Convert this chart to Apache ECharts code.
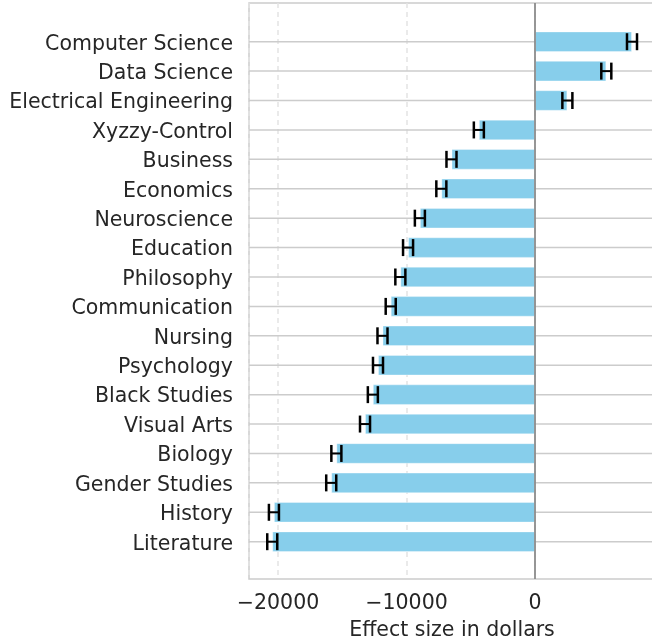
<!DOCTYPE html>
<html>
<head>
<meta charset="utf-8">
<script src="https://cdn.jsdelivr.net/npm/echarts@6/dist/echarts.min.js"></script>
<style>
  html, body { margin: 0; padding: 0; background: #fff; }
</style>
</head>
<body>
<div id="main" style="width: 652px; height: 644px"></div>
<script>
const categories = [
  'Computer Science', 'Data Science', 'Electrical Engineering', 'Xyzzy-Control',
  'Business', 'Economics', 'Neuroscience', 'Education', 'Philosophy',
  'Communication', 'Nursing', 'Psychology', 'Black Studies', 'Visual Arts',
  'Biology', 'Gender Studies', 'History', 'Literature'
]
const effects = [
  7550, 5550, 2520, -4370, -6500, -7290, -8960, -9880, -10480,
  -11230, -11870, -12220, -12620, -13230, -15460, -15860, -20320, -20450
]
const errors = [
  390, 390, 390, 390, 390, 390, 390, 390, 390,
  390, 390, 390, 390, 390, 390, 390, 390, 390
]
const xMin = -22260
const xMax = 9340
const textColor = '#262626'
const fontFamily = 'DejaVu Sans'

const chart = echarts.init(document.getElementById('main'))

function fmtTick(v) {
  if (v % 10000 !== 0) return ''
  return v < 0 ? '\u2212' + Math.abs(v) : String(v)
}

// gridlines at category centres, behind the bars
function renderRowLine(params, api) {
  const y = api.coord([0, api.value(0)])[1]
  const cs = params.coordSys
  return {
    type: 'line',
    shape: { x1: cs.x, y1: y, x2: cs.x + cs.width, y2: y },
    style: { stroke: '#cccccc', lineWidth: 1.5 },
  }
}

function renderErr(params, api) {
  const i = api.value(0)
  const v = api.value(1)
  const e = api.value(2)
  const a = api.coord([v - e, i])
  const b = api.coord([v + e, i])
  const h = 8.5
  const st = { stroke: '#000', lineWidth: 2.5 }
  return {
    type: 'group',
    children: [
      { type: 'line', shape: { x1: a[0], y1: a[1], x2: b[0], y2: b[1] }, style: { stroke: '#000', lineWidth: 2 } },
      { type: 'line', shape: { x1: a[0], y1: a[1] - h, x2: a[0], y2: a[1] + h }, style: st },
      { type: 'line', shape: { x1: b[0], y1: b[1] - h, x2: b[0], y2: b[1] + h }, style: st },
    ],
  }
}

function renderZero(params, api) {
  const x = api.coord([api.value(0), 0])[0]
  const cs = params.coordSys
  return {
    type: 'line',
    shape: { x1: x, y1: cs.y, x2: x, y2: cs.y + cs.height },
    style: { stroke: '#8c8c8c', lineWidth: 1.8 },
  }
}

const option = {
  animation: false,
  backgroundColor: '#ffffff',
  textStyle: { fontFamily: fontFamily },
  grid: [
    {
      // frame, runs past the right edge like the original
      left: 249, width: 406, top: 3, bottom: 65,
      outerBoundsMode: 'none',
      show: true, borderColor: '#cccccc', borderWidth: 1.5,
    },
    {
      // bars
      left: 249, width: 406, top: 27, bottom: 87.6,
      outerBoundsMode: 'none',
    },
  ],
  xAxis: [
    {
      gridIndex: 0,
      type: 'value',
      min: xMin,
      max: xMax,
      splitNumber: 3,
      axisLine: { show: false },
      axisTick: { show: false },
      axisLabel: {
        formatter: fmtTick,
        showMinLabel: false,
        showMaxLabel: false,
        fontSize: 20.5,
        color: textColor,
        margin: 14,
        fontFamily: fontFamily,
      },
      splitLine: {
        show: true,
        lineStyle: { color: '#e3e3e3', width: 1.5, type: [5, 4] },
      },
      name: 'Effect size in dollars',
      nameLocation: 'middle',
      nameGap: 41,
      nameTextStyle: { fontSize: 20.5, color: textColor, fontFamily: fontFamily },
    },
    {
      gridIndex: 1,
      type: 'value',
      min: xMin,
      max: xMax,
      show: false,
      splitLine: { show: false },
    },
  ],
  yAxis: [
    {
      gridIndex: 0,
      type: 'value',
      min: 0,
      max: 1,
      show: false,
      splitLine: { show: false },
    },
    {
      gridIndex: 1,
      type: 'category',
      data: categories,
      inverse: true,
      axisLine: { show: false },
      axisTick: { show: false },
      splitLine: { show: false },
      axisLabel: {
        fontSize: 20.5,
        color: textColor,
        margin: 16,
        verticalAlign: 'top',
        lineHeight: 5,
        fontFamily: fontFamily,
      },
    },
  ],
  series: [
    {
      type: 'custom',
      xAxisIndex: 1,
      yAxisIndex: 1,
      z: 1,
      renderItem: renderRowLine,
      encode: { x: 1, y: 0 },
      data: categories.map((c, i) => [i, 0]),
      silent: true,
    },
    {
      type: 'bar',
      xAxisIndex: 1,
      yAxisIndex: 1,
      z: 2,
      barWidth: '70%',
      itemStyle: {
        color: '#87ceeb',
        borderColor: 'rgba(255,255,255,0.35)',
        borderWidth: 1,
      },
      data: effects,
    },
    {
      type: 'custom',
      xAxisIndex: 0,
      yAxisIndex: 0,
      z: 3,
      renderItem: renderZero,
      encode: { x: 0, y: 1 },
      data: [[0, 0]],
      silent: true,
    },
    {
      type: 'custom',
      xAxisIndex: 1,
      yAxisIndex: 1,
      z: 4,
      renderItem: renderErr,
      encode: { x: 1, y: 0 },
      data: categories.map((c, i) => [i, effects[i], errors[i]]),
      silent: true,
    },
  ],
}
chart.setOption(option)
</script>
</body>
</html>
